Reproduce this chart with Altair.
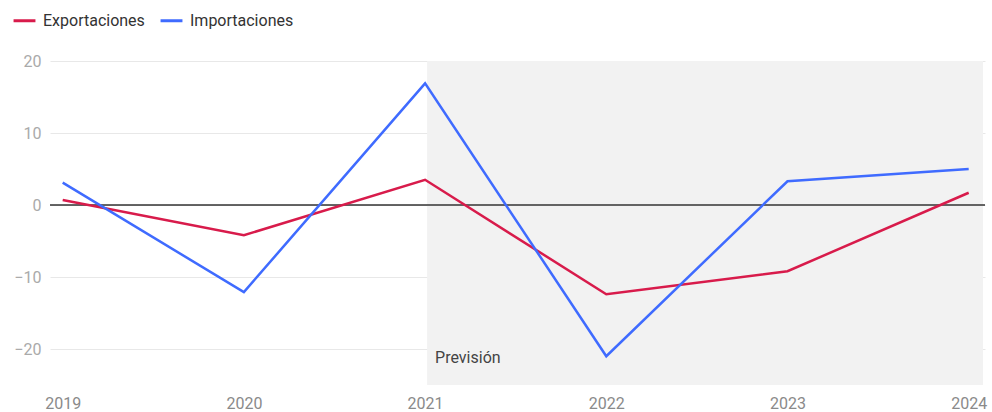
import altair as alt
import pandas as pd

years = [2019, 2020, 2021, 2022, 2023, 2024]
exportaciones = [0.7, -4.2, 3.5, -12.4, -9.2, 1.7]
importaciones = [3.1, -12.1, 16.9, -21.0, 3.3, 5.0]
series_names = ["Exportaciones", "Importaciones"]
series_colors = ["#d81b4b", "#3f6bff"]
forecast_start = 2021
forecast_label = "Previsión"

rows = []
for name, vals in zip(series_names, [exportaciones, importaciones]):
    for yr, v in zip(years, vals):
        rows.append({"year": yr, "value": v, "serie": name})
df = pd.DataFrame(rows)

W, H = 935, 324
x_scale = alt.Scale(domain=[2018.93, 2024.09], nice=False, zero=False)
y_scale = alt.Scale(domain=[-25, 20], nice=False)

x_axis = alt.Axis(
    values=years, format="d", grid=False, domain=False, ticks=False,
    labelPadding=10, labelFontSize=16, labelColor="#8a8a8a", labelFont="Roboto",
    labelFlush=False, title=None,
)
y_axis = alt.Axis(
    values=[-20, -10, 0, 10, 20], domain=False, ticks=False,
    gridColor="#e8e8e8", labelPadding=9, labelFontSize=16,
    labelColor="#aaa", labelFont="Roboto", title=None,
)

# shaded forecast period
shade = alt.Chart(pd.DataFrame({"start": [forecast_start]})).mark_rect(
    color="#f2f2f2", xOffset=2
).encode(
    x=alt.X("start:Q", scale=x_scale, axis=x_axis),
    x2=alt.value(W - 2),
    y=alt.value(0),
    y2=alt.value(H),
)

label = alt.Chart(pd.DataFrame({"start": [forecast_start], "t": [forecast_label]})).mark_text(
    align="left", baseline="middle", dx=10, fontSize=16, font="Roboto", color="#444"
).encode(
    x=alt.X("start:Q", scale=x_scale, axis=x_axis),
    y=alt.value(H - 27),
    text="t:N",
)

zero = alt.Chart(pd.DataFrame({"v": [0]})).mark_rule(color="#333", strokeWidth=1.5).encode(
    y=alt.Y("v:Q", scale=y_scale, axis=y_axis),
    x=alt.value(0),
    x2=alt.value(W),
)

lines = alt.Chart(df).mark_line(strokeWidth=2.5).encode(
    x=alt.X("year:Q", scale=x_scale, axis=x_axis),
    y=alt.Y("value:Q", scale=y_scale, axis=y_axis),
    color=alt.Color(
        "serie:N",
        scale=alt.Scale(domain=series_names, range=series_colors),
        legend=alt.Legend(
            orient="none", legendX=-38, legendY=-53, direction="horizontal",
            title=None, symbolType="stroke", symbolStrokeWidth=3, symbolSize=480,
            labelFontSize=16, labelColor="#333", labelFont="Roboto", columnPadding=9,
            labelOffset=6,
        ),
    ),
)

chart = (
    alt.layer(shade, zero, lines, label)
    .properties(
        width=W, height=H,
        background="white",
        autosize=alt.AutoSizeParams(type="none"),
        padding={"left": 50, "top": 61, "right": 7, "bottom": 27},
    )
    .configure_view(strokeWidth=0, stroke="transparent")
)

chart.save("out.html", embed_options={"renderer": "svg", "actions": False})
